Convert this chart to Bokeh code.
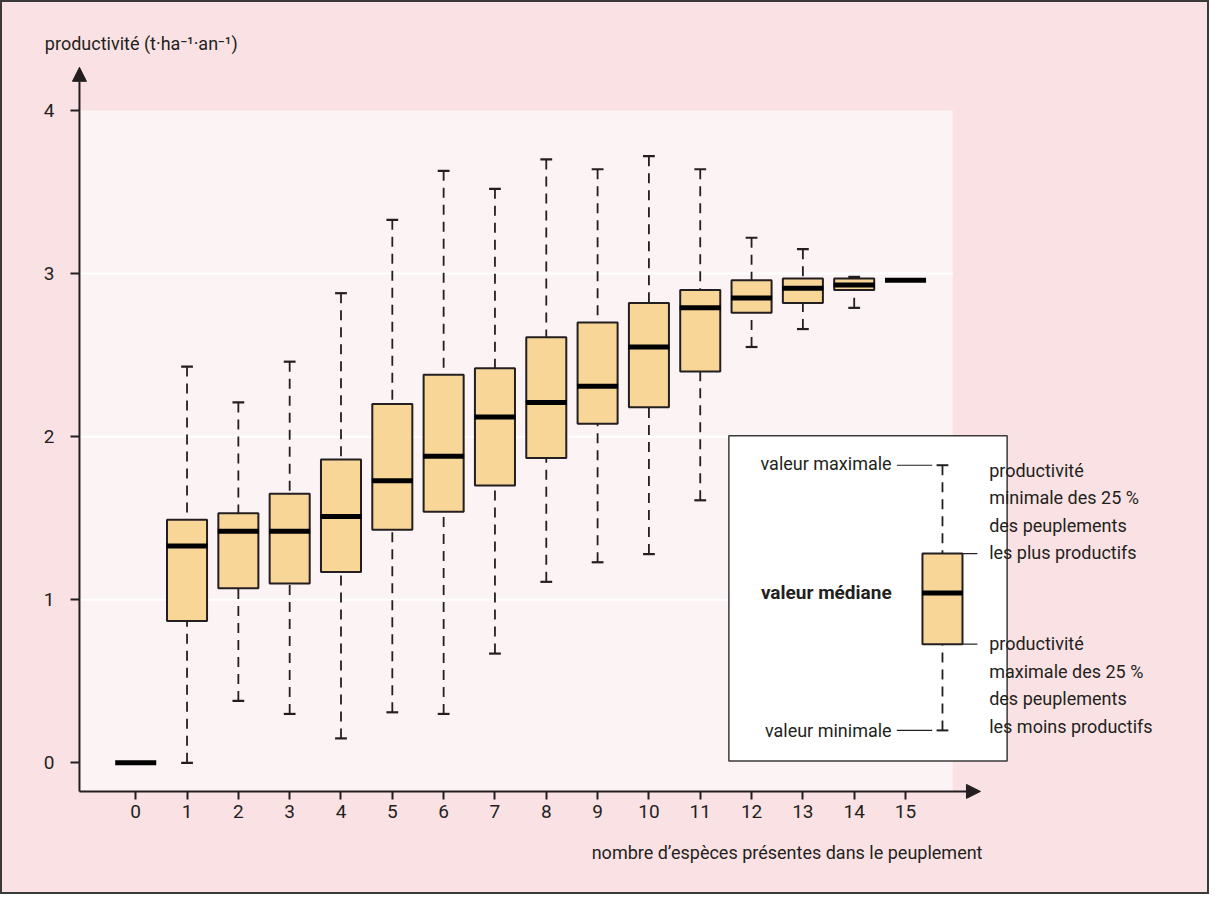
from bokeh.plotting import figure
from bokeh.models import Range1d, LinearAxis, FixedTicker, Arrow, NormalHead, ColumnDataSource
from bokeh.core.properties import value
from bokeh.embed import file_html
from bokeh.resources import INLINE

# ---------------- data ----------------
species = list(range(16))
y_ticks = [0, 1, 2, 3, 4]
grid_levels = [1, 2, 3]

whisker_max = [0.00, 2.43, 2.21, 2.46, 2.88, 3.33, 3.63, 3.52, 3.70, 3.64, 3.72, 3.64, 3.22, 3.15, 2.98, 2.96]
quart_3     = [0.00, 1.49, 1.53, 1.65, 1.86, 2.20, 2.38, 2.42, 2.61, 2.70, 2.82, 2.90, 2.96, 2.97, 2.97, 2.96]
median      = [0.00, 1.33, 1.42, 1.42, 1.51, 1.73, 1.88, 2.12, 2.21, 2.31, 2.55, 2.79, 2.85, 2.91, 2.93, 2.96]
quart_1     = [0.00, 0.87, 1.07, 1.10, 1.17, 1.43, 1.54, 1.70, 1.87, 2.08, 2.18, 2.40, 2.76, 2.82, 2.90, 2.96]
whisker_min = [0.00, 0.00, 0.38, 0.30, 0.15, 0.31, 0.30, 0.67, 1.11, 1.23, 1.28, 1.61, 2.55, 2.66, 2.79, 2.96]

# legend example box (explanatory diagram)
legend_example = dict(vmax=1.825, q3=1.283, med=1.042, q1=0.728, vmin=0.199)

y_title = "productivité (t·ha⁻¹·an⁻¹)"
x_title = "nombre d’espèces présentes dans le peuplement"

# ---------------- styles ----------------
FONT = "Roboto"
FS = "18px"
INK = "#231f20"
OUTER = "#fae2e4"
INNER = "#fcf3f4"
BOX_FILL = "#f8d698"
BOX_W = 0.78
CAP_W = 0.23

# geometry (data coords)
AXIS_X = -1.096
AXIS_Y = -0.175
INNER_RIGHT = 15.92
INNER_TOP = 4.0
X_TIP = 16.46
Y_TIP = 4.265

p = figure(width=1209, height=894,
           x_range=Range1d(-2.63462, 20.92308), y_range=Range1d(-0.80723, 4.67470),
           output_backend="svg", toolbar_location=None, title=None,
           x_axis_type=None, y_axis_type=None, min_border=0)
p.background_fill_color = OUTER
p.border_fill_color = OUTER
p.outline_line_color = "#3a3a3a"
p.outline_line_width = 3

# inner plotting area
p.quad(left=[AXIS_X], right=[INNER_RIGHT], bottom=[AXIS_Y], top=[INNER_TOP],
       fill_color=INNER, line_color=None)

# white grid lines
p.segment(x0=[AXIS_X] * len(grid_levels), x1=[INNER_RIGHT] * len(grid_levels),
          y0=grid_levels, y1=grid_levels, line_color="white", line_width=2)

# boxes
bx = [s for s in species if quart_3[s] > quart_1[s]]
box_src = ColumnDataSource(dict(x=bx, top=[quart_3[s] for s in bx], bottom=[quart_1[s] for s in bx]))

# whiskers
ux = [s for s in species if whisker_max[s] > quart_3[s]]
lx = [s for s in species if whisker_min[s] < quart_1[s]]
p.segment(x0=ux, x1=ux, y0=[whisker_max[s] for s in ux], y1=[quart_3[s] for s in ux],
          line_color=INK, line_width=1.8, line_dash="10 7")
p.segment(x0=lx, x1=lx, y0=[whisker_min[s] for s in lx], y1=[quart_1[s] for s in lx],
          line_color=INK, line_width=1.8, line_dash="10 7")
p.segment(x0=[s - CAP_W / 2 for s in ux], x1=[s + CAP_W / 2 for s in ux],
          y0=[whisker_max[s] for s in ux], y1=[whisker_max[s] for s in ux],
          line_color=INK, line_width=2.2)
p.segment(x0=[s - CAP_W / 2 for s in lx], x1=[s + CAP_W / 2 for s in lx],
          y0=[whisker_min[s] for s in lx], y1=[whisker_min[s] for s in lx],
          line_color=INK, line_width=2.2)

p.vbar(x="x", width=BOX_W, top="top", bottom="bottom", source=box_src,
       fill_color=BOX_FILL, line_color=INK, line_width=2)

# medians
p.rect(x=species, y=median, width=BOX_W + 0.02, height=5, height_units="screen",
       fill_color="black", line_color=None)

# axes
xaxis = LinearAxis(fixed_location=AXIS_Y, ticker=FixedTicker(ticks=species), bounds=(AXIS_X, X_TIP))
yaxis = LinearAxis(fixed_location=AXIS_X, ticker=FixedTicker(ticks=y_ticks), bounds=(AXIS_Y, Y_TIP))
for ax in (xaxis, yaxis):
    ax.axis_line_color = None
    ax.major_tick_in = 0
    ax.major_tick_line_color = INK
    ax.major_tick_line_width = 2
    ax.minor_tick_line_color = None
    ax.major_label_text_font = FONT
    ax.major_label_text_font_size = "19px"
    ax.major_label_text_color = INK
xaxis.major_tick_out = 8
xaxis.major_label_standoff = 6
yaxis.major_tick_out = 9
yaxis.major_label_standoff = 16
p.add_layout(xaxis, "below")
p.add_layout(yaxis, "left")

p.add_layout(Arrow(end=NormalHead(size=14, fill_color=INK, line_color=INK, line_width=1),
                   x_start=AXIS_X, y_start=AXIS_Y, x_end=X_TIP, y_end=AXIS_Y,
                   line_color=INK, line_width=2))
p.add_layout(Arrow(end=NormalHead(size=14, fill_color=INK, line_color=INK, line_width=1),
                   x_start=AXIS_X, y_start=AXIS_Y, x_end=AXIS_X, y_end=Y_TIP,
                   line_color=INK, line_width=2))

# axis titles
p.text(x=[-1.77], y=[4.41], text=[y_title], text_font=value(FONT), text_font_size=value(FS),
       text_color=INK, text_align="left", text_baseline="middle")
p.text(x=[16.5], y=[-0.548], text=[x_title], text_font=value(FONT), text_font_size=value(FS),
       text_color=INK, text_align="right", text_baseline="middle")

# ---------------- legend panel ----------------
LX = 15.72
p.quad(left=[11.558], right=[16.98], bottom=[0.012], top=[2.006],
       fill_color="white", line_color="#3a3a3a", line_width=1.5)
le = legend_example
p.segment(x0=[LX, LX], x1=[LX, LX], y0=[le["vmax"], le["vmin"]], y1=[le["q3"], le["q1"]],
          line_color=INK, line_width=1.8, line_dash="10 7")
p.segment(x0=[LX - CAP_W / 2] * 2, x1=[LX + CAP_W / 2] * 2, y0=[le["vmax"], le["vmin"]],
          y1=[le["vmax"], le["vmin"]], line_color=INK, line_width=2)
p.vbar(x=[LX], width=BOX_W, top=[le["q3"]], bottom=[le["q1"]],
       fill_color=BOX_FILL, line_color=INK, line_width=2)
p.rect(x=[LX], y=[le["med"]], width=BOX_W + 0.02, height=5, height_units="screen",
       fill_color="black", line_color=None)
# leader lines
p.segment(x0=[14.83, 14.83, LX + BOX_W / 2, LX + BOX_W / 2],
          x1=[15.52, 15.52, 16.40, 16.40],
          y0=[le["vmax"], le["vmin"], le["q3"], le["q1"]],
          y1=[le["vmax"], le["vmin"], le["q3"], le["q1"]],
          line_color=INK, line_width=1.2)

p.text(x=[14.73, 14.73], y=[le["vmax"] + 0.01, le["vmin"]],
       text=["valeur maximale", "valeur minimale"], text_font=value(FONT),
       text_font_size=value(FS), text_color=INK, text_align="right", text_baseline="middle")
p.text(x=[14.73], y=[le["med"]], text=["valeur médiane"], text_font=value(FONT),
       text_font_size=value("19px"), text_font_style="bold", text_color=INK,
       text_align="right", text_baseline="middle")

right_lines = ["productivité", "minimale des 25 %", "des peuplements", "les plus productifs",
               "productivité", "maximale des 25 %", "des peuplements", "les moins productifs"]
right_px = [478, 506, 534, 562, 655, 683, 711, 739]
p.text(x=[16.63] * len(right_lines), y=[(776 - v) / 166 for v in right_px], text=right_lines,
       text_font=value(FONT), text_font_size=value(FS), text_color=INK,
       text_align="left", text_baseline="middle")

open("out.html", "w").write(file_html(p, INLINE))
